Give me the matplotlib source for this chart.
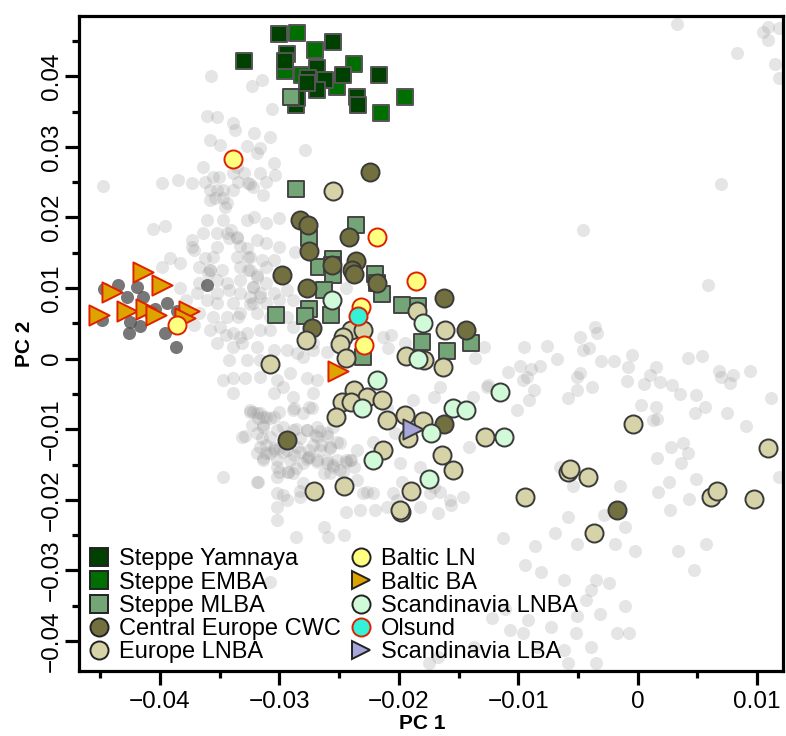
import matplotlib
matplotlib.use("Agg")
import matplotlib.pyplot as plt
from matplotlib.lines import Line2D
from matplotlib.ticker import FixedLocator, FuncFormatter

plt.rcParams['font.family'] = ['Liberation Sans', 'DejaVu Sans']

# ---------------- data (PC1, PC2) ----------------
background = [
    (-0.0357, 0.0400), (-0.0323, 0.0386), (-0.0315, 0.0395), (-0.0306, 0.0354), (-0.0361, 0.0344),
    (-0.0352, 0.0342), (-0.0339, 0.0334), (-0.0337, 0.0324), (-0.0358, 0.0310), (-0.0321, 0.0320),
    (-0.0308, 0.0314), (-0.0350, 0.0303), (-0.0327, 0.0301), (-0.0316, 0.0298), (-0.0279, 0.0296),
    (-0.0319, 0.0291), (-0.0305, 0.0277), (-0.0448, 0.0245), (-0.0398, 0.0249), (-0.0385, 0.0253),
    (-0.0373, 0.0249), (-0.0364, 0.0272), (-0.0362, 0.0250), (-0.0356, 0.0257), (-0.0339, 0.0263),
    (-0.0335, 0.0250), (-0.0326, 0.0249), (-0.0316, 0.0263), (-0.0311, 0.0250), (-0.0304, 0.0260),
    (-0.0358, 0.0239), (-0.0352, 0.0239), (-0.0339, 0.0239), (-0.0322, 0.0243), (-0.0314, 0.0232),
    (-0.0358, 0.0225), (-0.0347, 0.0228), (-0.0346, 0.0215), (-0.0361, 0.0197), (-0.0347, 0.0197),
    (-0.0327, 0.0197), (-0.0321, 0.0201), (-0.0311, 0.0192), (-0.0300, 0.0199), (-0.0406, 0.0184),
    (-0.0396, 0.0188), (-0.0373, 0.0168), (-0.0372, 0.0154), (-0.0392, 0.0143), (-0.0364, 0.0178),
    (-0.0352, 0.0178), (-0.0344, 0.0178), (-0.0342, 0.0171), (-0.0336, 0.0171), (-0.0352, 0.0158),
    (-0.0327, 0.0157), (-0.0319, 0.0168), (-0.0311, 0.0164), (-0.0300, 0.0158), (-0.0287, 0.0151),
    (-0.0362, 0.0143), (-0.0356, 0.0144), (-0.0336, 0.0144), (-0.0326, 0.0144), (-0.0315, 0.0140),
    (-0.0305, 0.0140), (-0.0398, 0.0130), (-0.0383, 0.0136), (-0.0367, 0.0130), (-0.0358, 0.0126),
    (-0.0348, 0.0126), (-0.0333, 0.0130), (-0.0325, 0.0126), (-0.0319, 0.0116), (-0.0311, 0.0130),
    (-0.0301, 0.0116), (-0.0367, 0.0107), (-0.0352, 0.0112), (-0.0344, 0.0107), (-0.0333, 0.0112),
    (-0.0322, 0.0102), (-0.0311, 0.0107), (-0.0383, 0.0100), (-0.0369, 0.0093), (-0.0352, 0.0093),
    (-0.0342, 0.0097), (-0.0333, 0.0093), (-0.0325, 0.0087), (-0.0316, 0.0093), (-0.0305, 0.0093),
    (-0.0294, 0.0097), (-0.0378, 0.0083), (-0.0361, 0.0083), (-0.0352, 0.0079), (-0.0339, 0.0079),
    (-0.0322, 0.0079), (-0.0311, 0.0079), (-0.0300, 0.0083), (-0.0289, 0.0083), (-0.0367, 0.0065),
    (-0.0356, 0.0059), (-0.0344, 0.0059), (-0.0333, 0.0065), (-0.0319, 0.0065), (-0.0308, 0.0059),
    (-0.0294, 0.0059), (-0.0372, 0.0048), (-0.0358, 0.0041), (-0.0350, 0.0045), (-0.0339, 0.0036),
    (-0.0327, 0.0036), (-0.0316, 0.0041), (-0.0308, 0.0041), (-0.0289, 0.0045), (-0.0352, 0.0022),
    (-0.0339, 0.0017), (-0.0331, 0.0022), (-0.0319, 0.0017), (-0.0305, 0.0012), (-0.0294, 0.0012),
    (-0.0285, 0.0008), (-0.0272, 0.0022), (-0.0213, 0.0031), (-0.0209, 0.0015), (-0.0342, -0.0002),
    (-0.0327, -0.0002), (-0.0316, -0.0002), (-0.0280, 0.0002), (-0.0272, 0.0012), (-0.0260, 0.0010),
    (-0.0373, 0.0158), (-0.0345, 0.0034), (-0.0244, 0.0100), (-0.0207, 0.0034), (-0.0195, 0.0022),
    (-0.0136, 0.0001),
    (-0.0336, 0.0272), (-0.0330, 0.0263), (-0.0325, 0.0248), (-0.0351, 0.0258), (-0.0347, 0.0239),
    (-0.0354, 0.0227), (-0.0344, 0.0220), (-0.0341, 0.0182), (-0.0336, 0.0173), (-0.0333, 0.0159),
    (-0.0325, 0.0144), (-0.0326, 0.0126), (-0.0319, 0.0119), (-0.0322, 0.0102), (-0.0316, 0.0088),
    (-0.0325, 0.0078), (-0.0335, 0.0059), (-0.0333, 0.0031), (-0.0358, 0.0126), (-0.0360, 0.0121),
    (0.0033, 0.0474), (0.0105, 0.0463), (0.0109, 0.0470), (0.0118, 0.0468), (0.0109, 0.0451),
    (0.0083, 0.0433), (0.0115, 0.0418), (0.0118, 0.0397), (0.0070, 0.0248), (-0.0046, 0.0182),
    (0.0059, 0.0105),
    (-0.0036, 0.0045), (-0.0034, 0.0036), (-0.0048, 0.0030), (-0.0041, 0.0015), (-0.0046, 0.0012),
    (-0.0076, 0.0018), (-0.0095, 0.0016), (-0.0129, 0.0017), (-0.0068, 0.0000), (-0.0082, -0.0010),
    (-0.0089, -0.0014), (-0.0099, -0.0011), (-0.0109, -0.0019), (-0.0093, -0.0026), (-0.0096, -0.0030),
    (-0.0087, -0.0044), (-0.0091, -0.0059), (-0.0101, -0.0073), (-0.0125, -0.0037), (-0.0058, -0.0056),
    (-0.0051, -0.0044), (-0.0048, -0.0021), (-0.0051, -0.0026), (-0.0038, -0.0040), (-0.0031, -0.0004),
    (-0.0020, -0.0004), (-0.0008, -0.0012), (-0.0005, 0.0005), (-0.0009, -0.0031), (0.0005, -0.0036),
    (0.0010, -0.0023), (0.0015, -0.0012), (0.0019, -0.0033), (0.0029, -0.0037), (0.0035, -0.0050),
    (0.0042, 0.0001), (0.0054, 0.0004), (0.0068, -0.0018), (0.0070, -0.0026), (0.0080, -0.0023),
    (0.0077, -0.0035), (0.0094, -0.0017), (0.0049, -0.0051), (0.0056, -0.0068), (0.0048, -0.0077),
    (0.0075, -0.0077), (0.0091, -0.0096), (0.0112, -0.0056), (0.0003, -0.0066), (0.0015, -0.0068),
    (0.0016, -0.0086), (0.0013, -0.0087), (0.0028, -0.0125), (0.0038, -0.0120), (0.0042, -0.0133),
    (0.0036, -0.0148), (0.0016, -0.0140), (0.0026, -0.0174), (0.0017, -0.0189), (0.0049, -0.0170),
    (0.0043, -0.0199), (0.0027, -0.0214), (-0.0015, -0.0181), (-0.0054, -0.0180), (-0.0065, -0.0153),
    (0.0118, -0.0167),
    (-0.0347, -0.0030), (-0.0339, -0.0027), (-0.0329, -0.0027), (-0.0316, -0.0026), (-0.0302, -0.0030),
    (-0.0291, -0.0020), (-0.0277, -0.0027), (-0.0269, -0.0030), (-0.0339, -0.0049), (-0.0297, -0.0040),
    (-0.0305, -0.0049), (-0.0289, -0.0054), (-0.0272, -0.0049), (-0.0275, -0.0068), (-0.0289, -0.0073),
    (-0.0325, -0.0073), (-0.0316, -0.0077), (-0.0311, -0.0083), (-0.0305, -0.0083), (-0.0300, -0.0076),
    (-0.0331, -0.0111), (-0.0319, -0.0105), (-0.0314, -0.0097), (-0.0308, -0.0111), (-0.0297, -0.0097),
    (-0.0289, -0.0101), (-0.0277, -0.0101), (-0.0269, -0.0097), (-0.0260, -0.0105), (-0.0255, -0.0097),
    (-0.0316, -0.0125), (-0.0311, -0.0134), (-0.0305, -0.0129), (-0.0294, -0.0129), (-0.0285, -0.0125),
    (-0.0275, -0.0129), (-0.0275, -0.0139), (-0.0266, -0.0129), (-0.0258, -0.0125), (-0.0249, -0.0119),
    (-0.0235, -0.0129), (-0.0314, -0.0144), (-0.0302, -0.0144), (-0.0291, -0.0144), (-0.0280, -0.0148),
    (-0.0269, -0.0144), (-0.0260, -0.0148), (-0.0252, -0.0144), (-0.0241, -0.0144), (-0.0347, -0.0168),
    (-0.0319, -0.0175), (-0.0302, -0.0168), (-0.0289, -0.0162), (-0.0280, -0.0176), (-0.0258, -0.0162),
    (-0.0249, -0.0158), (-0.0235, -0.0172), (-0.0230, -0.0190), (-0.0222, -0.0190), (-0.0302, -0.0190),
    (-0.0294, -0.0200), (-0.0283, -0.0196), (-0.0205, -0.0190), (-0.0308, -0.0316),
    (-0.0300, -0.0127), (-0.0277, -0.0142), (-0.0269, -0.0111), (-0.0255, -0.0153), (-0.0244, -0.0144),
    (-0.0238, -0.0153), (-0.0302, -0.0153), (-0.0293, -0.0161), (-0.0314, -0.0094), (-0.0322, -0.0076),
    (-0.0318, -0.0084),
    (-0.0325, -0.0075), (-0.0319, -0.0077), (-0.0314, -0.0082), (-0.0308, -0.0084), (-0.0323, -0.0094),
    (-0.0329, -0.0110), (-0.0315, -0.0113), (-0.0311, -0.0122), (-0.0305, -0.0127), (-0.0308, -0.0134),
    (-0.0319, -0.0134), (-0.0314, -0.0141), (-0.0297, -0.0132), (-0.0288, -0.0136), (-0.0283, -0.0132),
    (-0.0276, -0.0139), (-0.0277, -0.0101), (-0.0270, -0.0108), (-0.0266, -0.0103), (-0.0260, -0.0110),
    (-0.0272, -0.0122), (-0.0265, -0.0122), (-0.0258, -0.0127), (-0.0252, -0.0118), (-0.0269, -0.0146),
    (-0.0260, -0.0143), (-0.0255, -0.0151), (-0.0263, -0.0162), (-0.0244, -0.0146), (-0.0240, -0.0143),
    (-0.0247, -0.0160), (-0.0300, -0.0160), (-0.0293, -0.0160), (-0.0286, -0.0155), (-0.0318, -0.0174),
    (-0.0297, -0.0193), (-0.0283, -0.0188), (-0.0288, -0.0070), (-0.0280, -0.0077), (-0.0273, -0.0070),
    (-0.0302, -0.0101), (-0.0286, -0.0099), (-0.0283, -0.0113),
    (-0.0222, -0.0118), (-0.0199, -0.0148), (-0.0182, -0.0153), (-0.0197, -0.0175), (-0.0202, -0.0200),
    (-0.0171, -0.0182), (-0.0166, -0.0189), (-0.0157, -0.0200), (-0.0146, -0.0196), (-0.0174, -0.0190),
    (-0.0141, -0.0125), (-0.0126, -0.0040), (-0.0138, -0.0054), (-0.0188, -0.0059), (-0.0171, -0.0054),
    (-0.0166, -0.0040), (-0.0210, -0.0070), (-0.0203, -0.0105), (-0.0227, -0.0189), (-0.0210, -0.0210),
    (-0.0302, -0.0210), (-0.0302, -0.0229), (-0.0286, -0.0252), (-0.0263, -0.0238), (-0.0259, -0.0252),
    (-0.0246, -0.0250), (-0.0244, -0.0217), (-0.0233, -0.0214), (-0.0220, -0.0214), (-0.0182, -0.0210),
    (-0.0167, -0.0219), (-0.0156, -0.0207), (-0.0113, -0.0254), (-0.0086, -0.0266), (-0.0069, -0.0247),
    (-0.0058, -0.0224), (-0.0051, -0.0262), (-0.0028, -0.0221), (-0.0019, -0.0262), (-0.0002, -0.0273),
    (0.0034, -0.0273), (0.0057, -0.0262), (0.0047, -0.0299), (-0.0011, -0.0238), (-0.0094, -0.0292),
    (-0.0081, -0.0302), (-0.0062, -0.0313), (-0.0035, -0.0313), (-0.0039, -0.0328), (-0.0024, -0.0318),
    (-0.0043, -0.0342), (-0.0032, -0.0361), (-0.0011, -0.0351), (-0.0051, -0.0365), (-0.0111, -0.0354),
    (-0.0092, -0.0370), (-0.0073, -0.0380), (-0.0052, -0.0389), (-0.0017, -0.0389), (-0.0007, -0.0389),
    (-0.0039, -0.0408), (-0.0062, -0.0413), (-0.0084, -0.0408), (-0.0096, -0.0389), (-0.0122, -0.0368),
    (-0.0107, -0.0384), (-0.0137, -0.0408), (-0.0035, -0.0431), (-0.0058, -0.0431), (-0.0167, -0.0422),
    (-0.0175, -0.0431),
]

baltic_hg = [
    (-0.0435, 0.0104), (-0.0447, 0.0099), (-0.0428, 0.0088), (-0.0419, 0.0102), (-0.0414, 0.0088),
    (-0.0449, 0.0055), (-0.0425, 0.0052), (-0.0426, 0.0036), (-0.0404, 0.0071), (-0.0394, 0.0079),
    (-0.0386, 0.0067), (-0.0396, 0.0036), (-0.0387, 0.0016), (-0.0361, 0.0104), (-0.0408, 0.0062),
    (-0.0417, 0.0046),
]

steppe_emba = [
    (-0.0285, 0.0461), (-0.0270, 0.0437), (-0.0238, 0.0417), (-0.0295, 0.0407), (-0.0252, 0.0385),
    (-0.0195, 0.0371), (-0.0215, 0.0348), (-0.0281, 0.0402),
]

steppe_yamnaya = [
    (-0.0300, 0.0460), (-0.0330, 0.0421), (-0.0255, 0.0448), (-0.0294, 0.0431), (-0.0295, 0.0421),
    (-0.0269, 0.0412), (-0.0247, 0.0402), (-0.0217, 0.0402), (-0.0276, 0.0397), (-0.0262, 0.0395),
    (-0.0269, 0.0381), (-0.0235, 0.0371), (-0.0234, 0.0360), (-0.0286, 0.0359), (-0.0285, 0.0369),
    (-0.0277, 0.0390),
]

steppe_mlba = [
    (-0.0290, 0.0370), (-0.0286, 0.0240), (-0.0236, 0.0189), (-0.0275, 0.0171), (-0.0255, 0.0141),
    (-0.0267, 0.0130), (-0.0256, 0.0133), (-0.0255, 0.0119), (-0.0220, 0.0120), (-0.0218, 0.0107),
    (-0.0214, 0.0092), (-0.0263, 0.0097), (-0.0275, 0.0070), (-0.0303, 0.0062), (-0.0279, 0.0060),
    (-0.0257, 0.0062), (-0.0197, 0.0076), (-0.0184, 0.0075), (-0.0181, 0.0024), (-0.0160, 0.0011),
    (-0.0140, 0.0022), (-0.0230, 0.0003),
]

central_europe_cwc = [
    (-0.0224, 0.0265), (-0.0283, 0.0197), (-0.0276, 0.0189), (-0.0242, 0.0173), (-0.0275, 0.0152),
    (-0.0256, 0.0133), (-0.0236, 0.0139), (-0.0239, 0.0126), (-0.0238, 0.0120), (-0.0218, 0.0107),
    (-0.0298, 0.0119), (-0.0277, 0.0100), (-0.0162, 0.0086), (-0.0273, 0.0043), (-0.0144, 0.0041),
    (-0.0294, -0.0115), (-0.0162, -0.0093), (-0.0017, -0.0214),
]

europe_lnba = [
    (-0.0255, 0.0237), (-0.0185, 0.0067), (-0.0161, 0.0041), (-0.0278, 0.0027), (-0.0308, -0.0007),
    (-0.0240, 0.0041), (-0.0230, 0.0041), (-0.0247, 0.0031), (-0.0249, 0.0021), (-0.0244, 0.0001),
    (-0.0194, 0.0004), (-0.0179, -0.0002), (-0.0163, -0.0012), (-0.0238, -0.0044), (-0.0227, -0.0055),
    (-0.0214, -0.0058), (-0.0248, -0.0062), (-0.0240, -0.0062), (-0.0253, -0.0083), (-0.0210, -0.0087),
    (-0.0195, -0.0080), (-0.0180, -0.0088), (-0.0192, -0.0113), (-0.0213, -0.0130), (-0.0164, -0.0137),
    (-0.0155, -0.0157), (-0.0246, -0.0181), (-0.0271, -0.0188), (-0.0190, -0.0188), (-0.0198, -0.0217),
    (-0.0199, -0.0214), (-0.0128, -0.0111), (-0.0004, -0.0093), (-0.0058, -0.0160), (-0.0057, -0.0156),
    (-0.0042, -0.0167), (-0.0094, -0.0196), (0.0061, -0.0196), (0.0066, -0.0187), (0.0097, -0.0199),
    (0.0109, -0.0127), (-0.0037, -0.0247),
]

baltic_ba = [
    (-0.0414, 0.0123), (-0.0398, 0.0105), (-0.0440, 0.0095), (-0.0451, 0.0062), (-0.0428, 0.0068),
    (-0.0412, 0.0071), (-0.0403, 0.0062), (-0.0376, 0.0068), (-0.0379, 0.0057), (-0.0251, -0.0018),
]

baltic_ln = [
    (-0.0339, 0.0283), (-0.0218, 0.0173), (-0.0186, 0.0110), (-0.0232, 0.0073), (-0.0386, 0.0048),
    (-0.0229, 0.0020),
]

scandinavia_lba = [(-0.0188, -0.0099)]

scandinavia_lnba = [
    (-0.0256, 0.0083), (-0.0180, 0.0051), (-0.0184, 0.0000), (-0.0218, -0.0030), (-0.0231, -0.0070),
    (-0.0155, -0.0070), (-0.0144, -0.0073), (-0.0173, -0.0105), (-0.0222, -0.0144), (-0.0175, -0.0171),
    (-0.0115, -0.0047), (-0.0112, -0.0111),
]

olsund = [(-0.0234, 0.0061)]

x_major = [-0.04, -0.03, -0.02, -0.01, 0, 0.01]
x_minor = [-0.045, -0.035, -0.025, -0.015, -0.005, 0.005]
y_major = [-0.04, -0.03, -0.02, -0.01, 0, 0.01, 0.02, 0.03, 0.04]
y_minor = [-0.035, -0.025, -0.015, -0.005, 0.005, 0.015, 0.025, 0.035, 0.045]

# ---------------- styles ----------------
EDGE = '#3a3a3a'
RED = '#e02000'
groups = [
    (steppe_emba, 's', 12.2, '#006e00', '#555555'),
    (steppe_yamnaya, 's', 12.2, '#004000', '#555555'),
    (steppe_mlba, 's', 12.2, '#74a577', '#444444'),
    (central_europe_cwc, 'o', 13.0, '#737040', EDGE),
    (europe_lnba, 'o', 13.0, '#d6d3a8', EDGE),
    (baltic_ba, '>', 14.5, '#dda300', RED),
    (baltic_ln, 'o', 13.0, '#ffff80', RED),
    (scandinavia_lba, '>', 14.5, '#a6a6da', EDGE),
    (scandinavia_lnba, 'o', 13.0, '#d0fad8', EDGE),
    (olsund, 'o', 13.0, '#33f2d8', RED),
]

legend_items = [
    ('Steppe Yamnaya', 's', '#004000', '#222222'),
    ('Steppe EMBA', 's', '#006e00', '#222222'),
    ('Steppe MLBA', 's', '#74a577', '#222222'),
    ('Central Europe CWC', 'o', '#737040', '#222222'),
    ('Europe LNBA', 'o', '#d6d3a8', '#222222'),
    ('Baltic LN', 'o', '#ffff80', '#222222'),
    ('Baltic BA', '>', '#dda300', '#222222'),
    ('Scandinavia LNBA', 'o', '#d0fad8', '#222222'),
    ('Olsund', 'o', '#33f2d8', RED),
    ('Scandinavia LBA', '>', '#a6a6da', '#222222'),
]

# ---------------- figure ----------------
fig = plt.figure(figsize=(7.86, 7.36), dpi=100)
ax = fig.add_axes([79 / 786, 65 / 736, 704.3 / 786, 655.3 / 736])

bx, by = zip(*background)
ax.scatter(bx, by, s=9.4 ** 2, c='#999999', alpha=0.25, linewidths=0, zorder=1)
hx, hy = zip(*baltic_hg)
ax.scatter(hx, hy, s=9.4 ** 2, c='#555555', alpha=0.8, linewidths=0, zorder=2)

for i, (pts, mk, ms, fc, ec) in enumerate(groups):
    gx, gy = zip(*pts)
    ax.scatter(gx, gy, s=ms ** 2, marker=mk, facecolors=fc, edgecolors=ec,
               linewidths=1.4, zorder=3 + i)

ax.set_xlim(-0.04679, 0.01219)
ax.set_ylim(-0.04424, 0.04858)

ax.xaxis.set_major_locator(FixedLocator(x_major))
ax.xaxis.set_minor_locator(FixedLocator(x_minor))
ax.yaxis.set_major_locator(FixedLocator(y_major))
ax.yaxis.set_minor_locator(FixedLocator(y_minor))


def fmt(v, pos=None):
    if abs(v) < 1e-12:
        return '0'
    return ('%g' % v).replace('-', '\u2212')


ax.xaxis.set_major_formatter(FuncFormatter(fmt))
ax.yaxis.set_major_formatter(FuncFormatter(fmt))

for sp in ax.spines.values():
    sp.set_linewidth(2.3)
ax.tick_params(which='major', direction='out', length=10, width=2.3, labelsize=17.5)
ax.tick_params(which='minor', direction='out', length=5.3, width=2.3)
ax.tick_params(axis='x', which='major', pad=4.5)
ax.tick_params(axis='y', which='major', pad=1.5)
for lab in ax.get_yticklabels():
    lab.set_rotation(90)
    lab.set_va('center')

ax.set_xlabel('PC 1', fontsize=15, fontweight='bold')
ax.set_ylabel('PC 2', fontsize=15, fontweight='bold')
ax.xaxis.set_label_coords(0.488, -0.0656)
ax.yaxis.set_label_coords(-0.064, 0.5)

handles = [Line2D([], [], linestyle='None', marker=mk, markersize=13,
                  markerfacecolor=fc, markeredgecolor=ec, markeredgewidth=1.4, label=lab)
           for lab, mk, fc, ec in legend_items]
leg = ax.legend(handles=handles, ncol=2, loc='lower left', bbox_to_anchor=(0.015, 0.012),
                frameon=False, fontsize=17, handlelength=0.8, handletextpad=0.45,
                columnspacing=0.45, labelspacing=0.05, borderpad=0, borderaxespad=0,
                handleheight=0.7)
leg.set_zorder(20)

fig.savefig('out.png', dpi=100)
